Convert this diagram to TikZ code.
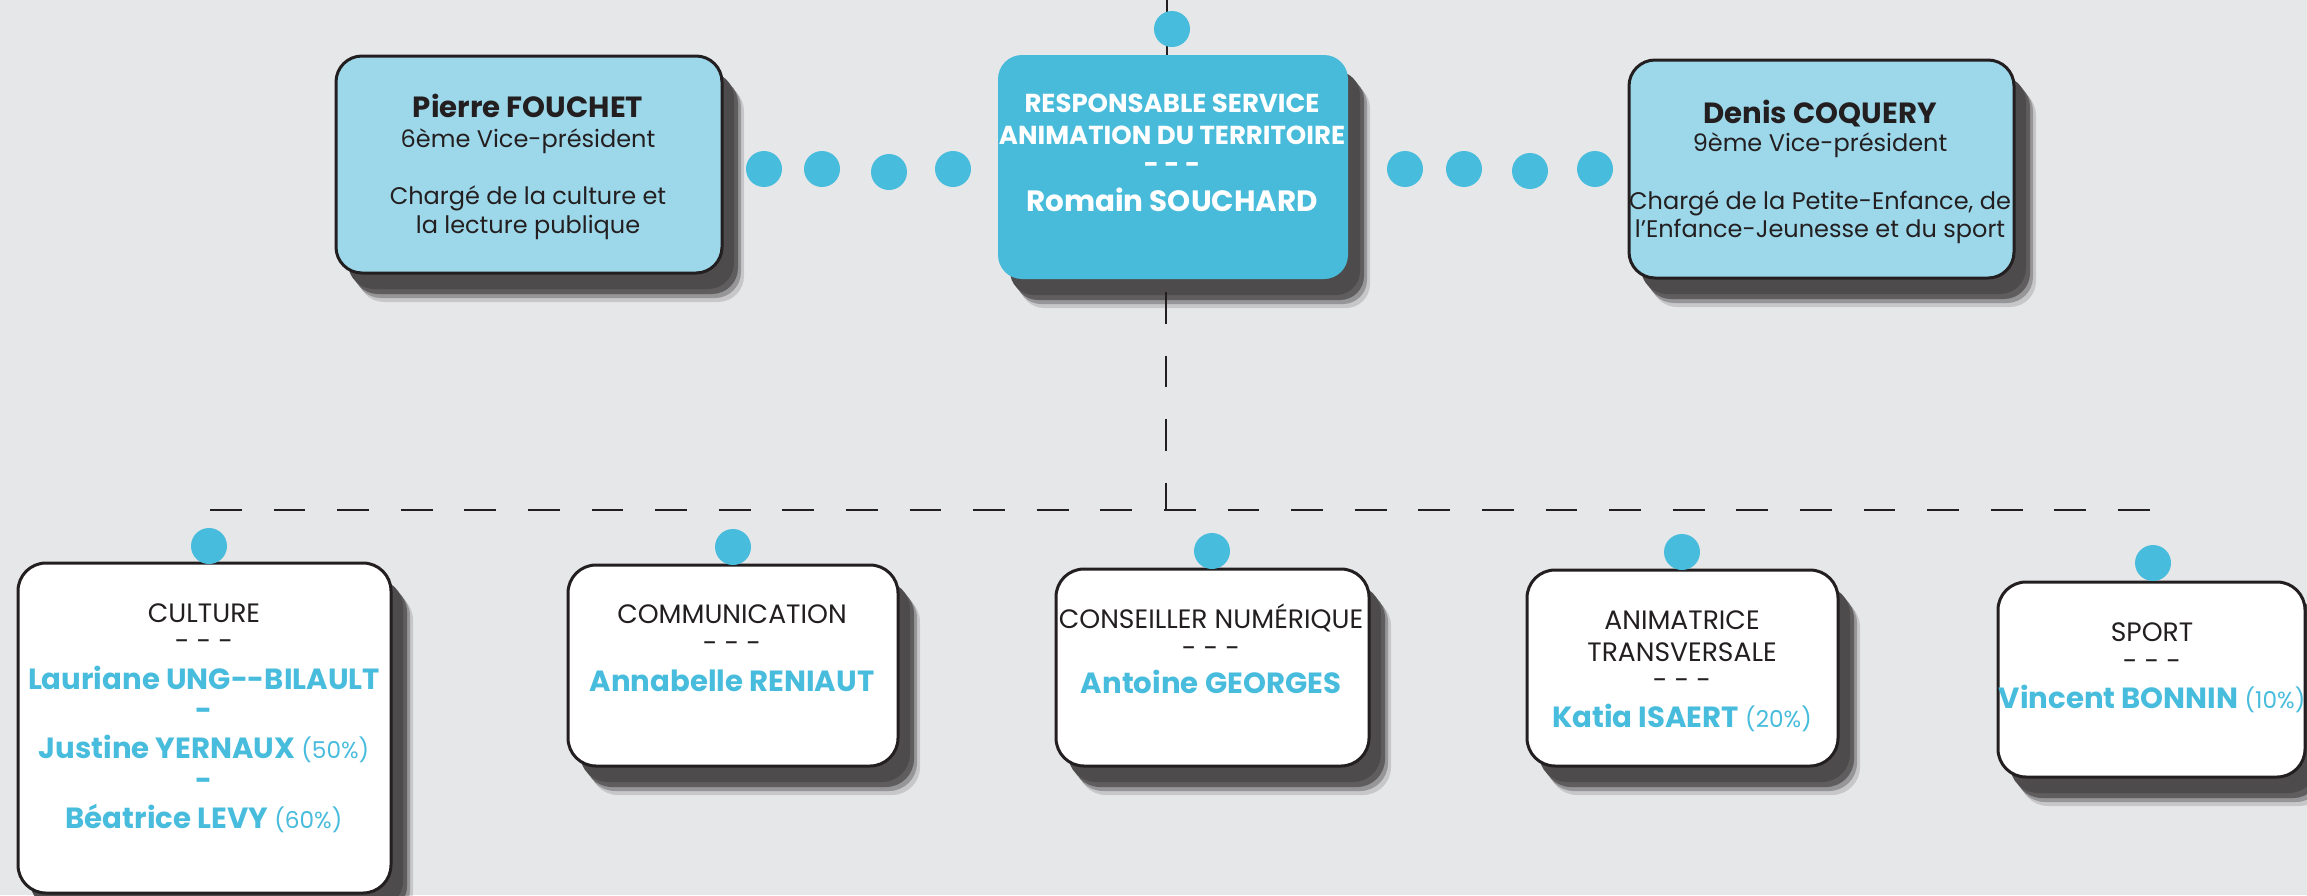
\documentclass[tikz,border=0pt]{standalone}
\usepackage{fontspec}
\setmainfont{Poppins}
\usetikzlibrary{shadows,fit}
\definecolor{bg}{HTML}{E6E7E9}
\definecolor{cyanbox}{HTML}{48BBDB}
\definecolor{lightbox}{HTML}{9DD8EA}
\definecolor{blu}{HTML}{48BCDC}
\definecolor{ink}{HTML}{231F20}
\definecolor{shd}{HTML}{4D4B4C}
\newcommand{\pct}[1]{{\fontsize{11.6}{13}\selectfont\mdseries (#1\%)}}
\begin{document}
\begin{tikzpicture}[x=0.5pt,y=-0.5pt,
  shad/.style={
    general shadow={shadow xshift=11pt,shadow yshift=-14.5pt,fill=shd,opacity=0.2},
    general shadow={shadow xshift=9.5pt,shadow yshift=-12.5pt,fill=shd,opacity=0.4},
    general shadow={shadow xshift=8pt,shadow yshift=-10.5pt,fill=shd,opacity=0.75},
    general shadow={shadow xshift=6pt,shadow yshift=-8pt,fill=shd}},
  card/.style={rectangle, rounded corners=14pt, draw=ink, line width=1.5pt, fill=white, inner sep=0pt, shad},
  vpcard/.style={card, rounded corners=13pt, fill=lightbox},
  headcard/.style={rectangle, rounded corners=12pt, fill=cyanbox, inner sep=0pt, shad},
  dot/.style={circle, fill=blu, minimum size=18pt, inner sep=0pt},
  conn/.style={draw=ink, line width=1.4pt},
  dline/.style={conn, dash pattern=on 15.9pt off 15.9pt},
  reg/.style={font=\fontsize{13.3}{15}\selectfont, text=ink, inner sep=0pt, anchor=base},
  vpreg/.style={reg, font=\fontsize{12}{14}\selectfont},
  vpname/.style={font=\fontsize{14.6}{17}\selectfont\bfseries, text=ink, inner sep=0pt, anchor=base},
  headtxt/.style={font=\fontsize{13}{16}\selectfont\bfseries, text=white, inner sep=0pt, anchor=base},
  headname/.style={font=\fontsize{14.7}{18}\selectfont\bfseries, text=white, inner sep=0pt, anchor=base},
  nm/.style={font=\fontsize{14.6}{17}\selectfont\bfseries, text=blu, inner sep=0pt, anchor=base}
]
\useasboundingbox (0,0) rectangle (2307,895);
\fill[bg] (0,0) rectangle (2307,895);

% connector end points
\coordinate (topend) at (1167,0);
\coordinate (hl) at (210,510);
\coordinate (hr) at (2153,510);
\coordinate (vj) at (1166,510);

% boxes
\node[vpcard, fit={(336,56) (722,273)}] (pierre) {};
\node[headcard, fit={(998,55) (1348,279)}] (head) {};
\node[vpcard, fit={(1629,60) (2014,278)}] (denis) {};
\node[card, fit={(18,563) (391,893)}] (culture) {};
\node[card, fit={(568,565) (898,766)}] (comm) {};
\node[card, fit={(1056,569) (1369,766)}] (cons) {};
\node[card, fit={(1527,570) (1838,766)}] (anim) {};
\node[card, fit={(1998,582) (2305,777)}] (sport) {};

\draw[conn] (topend) -- (topend |- head.north);
\draw[dline, dash phase=25.5pt] (vj |- head.south) -- (vj);
\draw[dline] (hl) -- (hr);

% dots
\node[dot] (dtop) at (1172,29) {};
\node[dot] (l1) at (764,169) {};
\node[dot] (l2) at (822,169) {};
\node[dot] (l3) at (889,172) {};
\node[dot] (l4) at (953,169) {};
\node[dot] (r1) at (1405,169) {};
\node[dot] (r2) at (1464,169) {};
\node[dot] (r3) at (1530,171) {};
\node[dot] (r4) at (1595,169) {};
\node[dot] (dcult) at (209,546) {};
\node[dot] (dcomm) at (733,547) {};
\node[dot] (dcons) at (1212,551) {};
\node[dot] (danim) at (1682,552) {};
\node[dot] (dsport) at (2153,563) {};

% Pierre
\node[vpname] (p1) at (528,117) {Pierre FOUCHET};
\node[vpreg] (p2) at (528,147) {6ème Vice-président};
\node[vpreg] (p3) at (528,204) {Chargé de la culture et};
\node[vpreg] (p4) at (528,233) {la lecture publique};
% head
\node[headtxt] (c1) at (1172,112) {RESPONSABLE SERVICE};
\node[headtxt] (c2) at (1172,144) {ANIMATION DU TERRITOIRE};
\node[headtxt] (c3) at (1172,173) {- - -};
\node[headname] (c4) at (1172,211) {Romain SOUCHARD};
% Denis
\node[vpname] (d1) at (1820,123) {Denis COQUERY};
\node[vpreg] (d2) at (1820,151) {9ème Vice-président};
\node[vpreg] (d3) at (1820,209) {Chargé de la Petite-Enfance, de};
\node[vpreg] (d4) at (1820,237) {l’Enfance-Jeunesse et du sport};
% Culture
\node[reg] (u1) at (204,622) {CULTURE};
\node[reg] (u2) at (204,650) {- - -};
\node[nm] (u3) at (204,689) {Lauriane UNG-{}-BILAULT};
\node[nm] (u4) at (204,720) {-};
\node[nm] (u5) at (204,758) {Justine YERNAUX \pct{50}};
\node[nm] (u6) at (204,790) {-};
\node[nm] (u7) at (204,828) {Béatrice LEVY \pct{60}};
% Communication
\node[reg] (m1) at (732,623) {COMMUNICATION};
\node[reg] (m2) at (732,652) {- - -};
\node[nm] (m3) at (732,691) {Annabelle RENIAUT};
% Conseiller
\node[reg] (n1) at (1211,628) {CONSEILLER NUMÉRIQUE};
\node[reg] (n2) at (1211,657) {- - -};
\node[nm] (n3) at (1211,693) {Antoine GEORGES};
% Animatrice
\node[reg] (a1) at (1682,629) {ANIMATRICE};
\node[reg] (a2) at (1682,661) {TRANSVERSALE};
\node[reg] (a3) at (1682,689) {- - -};
\node[nm] (a4) at (1682,727) {Katia ISAERT \pct{20}};
% Sport
\node[reg] (s1) at (2152,641) {SPORT};
\node[reg] (s2) at (2152,670) {- - -};
\node[nm] (s3) at (2152,708) {Vincent BONNIN \pct{10}};
\end{tikzpicture}
\end{document}
